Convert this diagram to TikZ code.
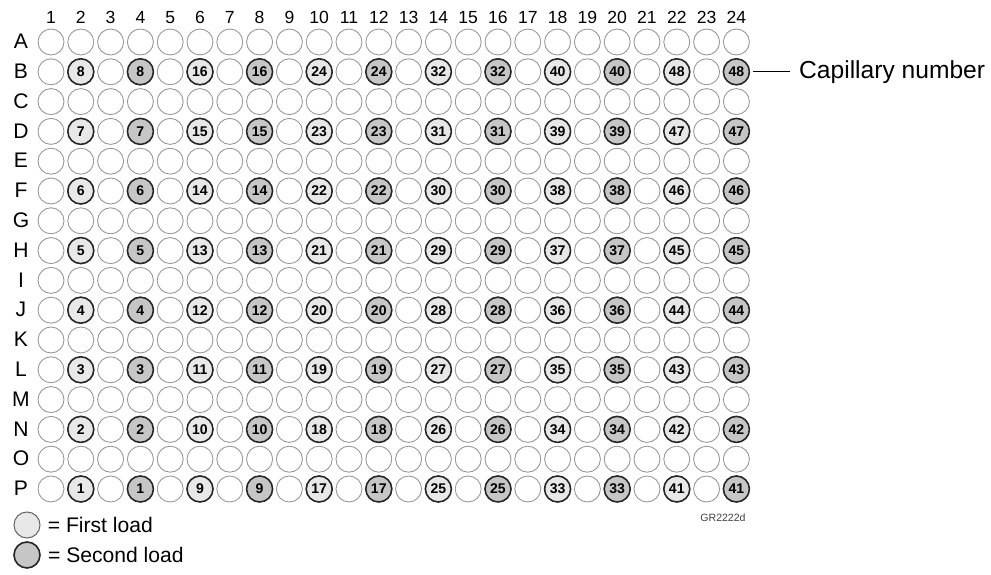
\documentclass[tikz,border=0pt]{standalone}
\usepackage{fontspec}
\setmainfont{Liberation Sans}
\usetikzlibrary{positioning, calc}
\definecolor{firstload}{RGB}{232, 232, 232}
\definecolor{secondload}{RGB}{198, 198, 198}
\definecolor{rim}{RGB}{150, 150, 150}

\begin{document}
\begin{tikzpicture}[
    well/.style={
        circle, draw=rim, line width=0.5pt,
        minimum size=0.52cm, inner sep=0pt,
    },
    loaded/.style={
        well, fill=#1, draw=black!85, line width=0.9pt,
        font=\fontsize{8}{9}\selectfont\bfseries,
    },
    collabel/.style={font=\fontsize{10}{12}\selectfont, inner sep=0pt, anchor=mid},
    rowlabel/.style={font=\fontsize{12}{14}\selectfont, inner sep=0pt, anchor=mid},
    legendtext/.style={font=\fontsize{12}{14}\selectfont, inner sep=0pt},
]
\useasboundingbox (0,0) rectangle (19.82,-11.5);

% --- Column numbers ---
\foreach \c in {1,...,24}
    \node[collabel] (col\c) at ({1.02+(\c-1)*0.596},-0.37) {\c};

% --- Row letters and empty wells ---
\foreach \r [count=\i] in {A,...,P} {
    \node[rowlabel] (row\r) at (0.42,{-0.88-(\i-1)*0.596}) {\r};
    \foreach \c in {1,...,24}
        \node[well] (\r\c) at ({1.02+(\c-1)*0.596},{-0.84-(\i-1)*0.596}) {};
}

% --- Loaded wells, capillary numbers ---
\foreach \k in {0,...,5} {
    \foreach \r [count=\j] in {B,D,F,H,J,L,N,P} {
        \pgfmathtruncatemacro{\num}{8*\k+9-\j}
        \pgfmathtruncatemacro{\ca}{4*\k+2}
        \pgfmathtruncatemacro{\cb}{4*\k+4}
        \node[loaded=firstload]  (\r\ca-load) at (\r\ca) {\num};
        \node[loaded=secondload] (\r\cb-load) at (\r\cb) {\num};
    }
}

% --- Capillary number callout ---
\node[font=\fontsize{14}{16}\selectfont, inner sep=0pt, right=0.98cm of B24] (capnum) {Capillary number};
\draw[line width=0.6pt, shorten <=0.06cm, shorten >=0.18cm] (B24-load) -- (capnum);

% --- Figure code ---
\node[font=\fontsize{6}{7}\selectfont, text=black!75] (figcode) at (14.46,-10.36) {GR2222d};

% --- Legend ---
\node[well, fill=firstload, draw=black!60, line width=0.6pt] (legfirst) at (0.54,-10.5) {};
\node[legendtext, right=0.14cm of legfirst] (legfirsttext) {= First load};
\node[well, fill=secondload, draw=black!85, line width=0.9pt] (legsecond) at (0.54,-11.1) {};
\node[legendtext, right=0.14cm of legsecond] (legsecondtext) {= Second load};

\end{tikzpicture}
\end{document}
